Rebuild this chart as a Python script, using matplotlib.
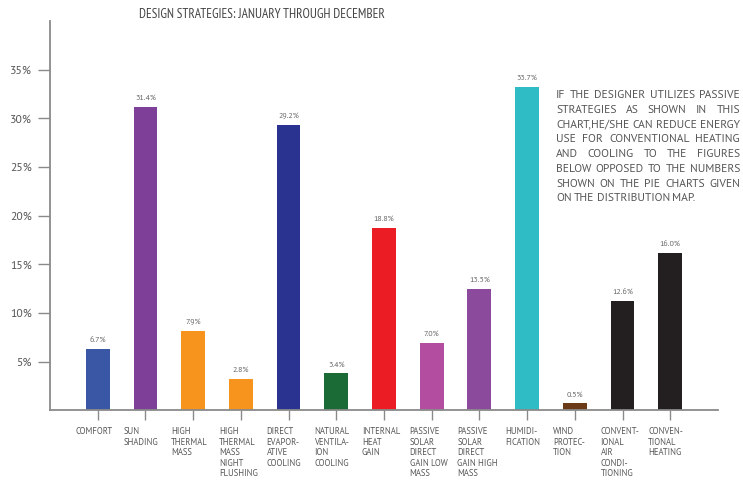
import matplotlib
matplotlib.use("Agg")
import matplotlib.pyplot as plt
from matplotlib import font_manager

# ---------------- data ----------------
categories = [
    "COMFORT", "SUN\nSHADING", "HIGH\nTHERMAL\nMASS", "HIGH\nTHERMAL\nMASS\nNIGHT\nFLUSHING",
    "DIRECT\nEVAPOR-\nATIVE\nCOOLING", "NATURAL\nVENTILA-\nION\nCOOLING", "INTERNAL\nHEAT\nGAIN",
    "PASSIVE\nSOLAR\nDIRECT\nGAIN LOW\nMASS", "PASSIVE\nSOLAR\nDIRECT\nGAIN HIGH\nMASS",
    "HUMIDI-\nFICATION", "WIND\nPROTEC-\nTION", "CONVENT-\nIONAL\nAIR\nCONDI-\nTIONING",
    "CONVEN-\nTIONAL\nHEATING",
]
# bar heights as drawn in the picture (percent)
values = [6.27, 31.15, 8.17, 3.2, 29.3, 3.8, 18.7, 6.95, 12.5, 33.2, 0.72, 11.25, 16.2]
# value labels as printed above the bars
value_labels = ["6.7%", "31.4%", "7.9%", "2.8%", "29.2%", "3.4%", "18.8%", "7.0%",
                "13.5%", "33.7%", "0.5%", "12.6%", "16.0%"]
colors = ["#3a57a6", "#7e3f98", "#f7941d", "#f7941d", "#2b3391", "#1b6b36", "#ec1c24",
          "#b34d9f", "#8c4a9c", "#2fbcc4", "#6a3b16", "#231f20", "#231f20"]
yticks = [5, 10, 15, 20, 25, 30, 35]
ytick_labels = ["5%", "10%", "15%", "20%", "25%", "30%", "35%"]
title = "DESIGN STRATEGIES: JANUARY THROUGH DECEMBER"
note_lines = [
    "IF THE DESIGNER UTILIZES PASSIVE",
    "STRATEGIES AS SHOWN IN THIS",
    "CHART,HE/SHE CAN REDUCE ENERGY",
    "USE FOR CONVENTIONAL HEATING",
    "AND COOLING TO THE FIGURES",
    "BELOW OPPOSED TO THE NUMBERS",
    "SHOWN ON THE PIE CHARTS GIVEN",
    "ON THE DISTRIBUTION MAP.",
]

# ---------------- fonts ----------------
avail = {f.name for f in font_manager.fontManager.ttflist}
TITLE_FAM = [f for f in ["PT Sans Narrow", "Open Sans", "DejaVu Sans"] if f in avail]
FAM = [f for f in ["PT Sans", "Fira Sans", "Open Sans", "DejaVu Sans"] if f in avail]

W, H = 743, 480
fig = plt.figure(figsize=(W / 100, H / 100), dpi=100)
ax = fig.add_axes([50 / W, 1 - 410.4 / H, (718 - 50) / W, (410.4 - 21) / H])

x = list(range(len(values)))
ax.bar(x, values, width=0.5, color=colors, zorder=2)
ax.set_xlim(-1.0, 13.0)
ax.set_ylim(0, 40)

for s in ["top", "right"]:
    ax.spines[s].set_visible(False)
for s in ["left", "bottom"]:
    ax.spines[s].set_color("#8a8a8a")
    ax.spines[s].set_linewidth(1.3)

ax.set_yticks(yticks)
ax.set_yticklabels(ytick_labels, fontsize=8.4, color="#555555", family=FAM)
ax.tick_params(axis="y", length=9, width=1, color="#8a8a8a", pad=4)
ax.set_xticks(x)
ax.set_xticklabels([""] * len(x))
ax.tick_params(axis="x", length=7, width=1, color="#8a8a8a")

for xi, lab in zip(x, categories):
    ax.annotate(lab, xy=(xi, 0), xycoords=("data", "axes fraction"),
                xytext=(-22, -17), textcoords="offset pixels", ha="left", va="top",
                fontsize=6.2, color="#555555", family=FAM, linespacing=1.2)

for xi, v, lab in zip(x, values, value_labels):
    ax.annotate(lab, xy=(xi, v), xytext=(0, 5), textcoords="offset pixels",
                ha="center", va="bottom", fontsize=5.8, color="#666666", family=FAM)

fig.text(262 / W, 1 - 15 / H, title, ha="center", va="center", fontsize=9.5,
         color="#444444", family=TITLE_FAM)

# justified note block
x0, x1 = 556, 740
y_first, dy = 95, 14.76
fig.canvas.draw()
renderer = fig.canvas.get_renderer()
probe = fig.text(0, 0, note_lines[-1], fontsize=10, family=FAM)
NOTE_FS = 10 * 141 / probe.get_window_extent(renderer).width
probe.remove()
for i, line in enumerate(note_lines):
    yc = 1 - (y_first + i * dy) / H
    words = line.split(" ")
    txts = [fig.text(0, yc, w, ha="left", va="center", fontsize=NOTE_FS, color="#555555", family=FAM)
            for w in words]
    widths = [t.get_window_extent(renderer).width for t in txts]
    if i < len(note_lines) - 1 and len(words) > 1:
        gap = (x1 - x0 - sum(widths)) / (len(words) - 1)
    else:
        sp = fig.text(0, 0, "A A", fontsize=NOTE_FS, family=FAM)
        sp2 = fig.text(0, 0, "AA", fontsize=NOTE_FS, family=FAM)
        gap = sp.get_window_extent(renderer).width - sp2.get_window_extent(renderer).width
        sp.remove(); sp2.remove()
    cx = x0
    for t, w in zip(txts, widths):
        t.set_x(cx / W)
        cx += w + gap

fig.savefig("out.png", dpi=100)
